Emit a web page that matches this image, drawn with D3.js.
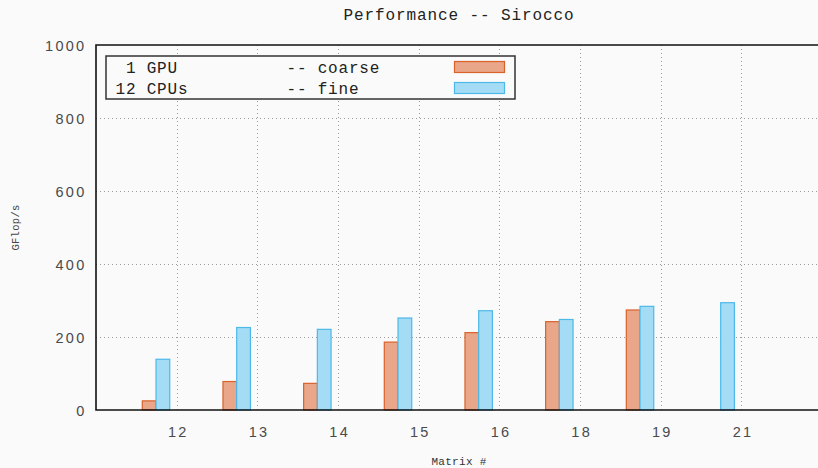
<!DOCTYPE html>
<html>
<head>
<meta charset="utf-8">
<script src="https://cdn.jsdelivr.net/npm/d3@7/dist/d3.min.js"></script>
<style>
  html, body { margin: 0; padding: 0; background: #fafafa; }
  svg { display: block; }
</style>
</head>
<body>
<svg id="chart" width="818" height="468"></svg>
<script>
// Matrix identifiers along the x axis
const categories = ["12", "13", "14", "15", "16", "18", "19", "21"];
// GFlop/s per matrix
const coarseValues = [25, 78, 73, 186, 212, 242, 274, null];   // 1 GPU -- coarse
const fineValues   = [139, 226, 221, 252, 272, 248, 284, 294]; // 12 CPUs -- fine
const yTicks = [0, 200, 400, 600, 800, 1000];

const seriesList = [
  { label: " 1 GPU", method: "-- coarse", values: coarseValues, fill: "#e9a688", stroke: "#d9622b" },
  { label: "12 CPUs", method: "-- fine", values: fineValues, fill: "#a5dcf5", stroke: "#4cb9e9" }
];

const svg = d3.select("#chart");
const plotLeft = 96, plotRight = 822, plotTop = 45, plotBottom = 410;
const monoFont = "'Liberation Mono', 'DejaVu Sans Mono', monospace";
const tickFont = "'Liberation Sans', Arial, sans-serif";

const x = d3.scaleLinear().domain([-1, categories.length]).range([plotLeft, plotRight]);
const y = d3.scaleLinear().domain([0, 1000]).range([plotBottom, plotTop]);

const barWidth = 0.17;
const groupOffset = -0.256;

// grid
const grid = svg.append("g").attr("stroke", "#9a9a9a").attr("stroke-width", 1)
  .attr("stroke-dasharray", "1,3");
grid.selectAll("line.v").data(categories).join("line").attr("class", "v")
  .attr("x1", (d, i) => Math.round(x(i)) + 0.5).attr("x2", (d, i) => Math.round(x(i)) + 0.5)
  .attr("y1", plotTop).attr("y2", plotBottom);
grid.selectAll("line.h").data(yTicks.filter(t => t > 0 && t < 1000)).join("line").attr("class", "h")
  .attr("x1", plotLeft).attr("x2", plotRight)
  .attr("y1", d => Math.round(y(d)) + 0.5).attr("y2", d => Math.round(y(d)) + 0.5);

// bars
seriesList.forEach((s, k) => {
  svg.append("g").selectAll("rect")
    .data(s.values.map((v, i) => ({ v, i })).filter(d => d.v != null))
    .join("rect")
    .attr("x", d => x(d.i + groupOffset + (k - 1) * barWidth))
    .attr("width", d => x(barWidth) - x(0))
    .attr("y", d => y(d.v))
    .attr("height", d => y(0) - y(d.v))
    .attr("fill", s.fill)
    .attr("stroke", s.stroke)
    .attr("stroke-width", 1.2);
});

// frame: left, top, bottom
const frame = svg.append("g").attr("stroke", "#111").attr("stroke-width", 1.6).attr("fill", "none");
frame.append("path").attr("d", `M${plotRight},${plotTop}H${plotLeft}V${plotBottom}H${plotRight}`);

// tick labels via d3 axes, with lines hidden
const yAxis = svg.append("g").attr("transform", `translate(${plotLeft - 9.5},0)`)
  .call(d3.axisLeft(y).tickValues(yTicks).tickFormat(d3.format("d")).tickSize(0).tickPadding(0));
yAxis.select(".domain").remove();
yAxis.selectAll("text")
  .attr("font-family", tickFont).attr("font-size", 14.5)
  .attr("letter-spacing", 2.3).attr("fill", "#4a4a4a").attr("dy", "0.36em");

const xAxis = svg.append("g").attr("transform", `translate(0,${plotBottom})`)
  .call(d3.axisBottom(x).tickValues(d3.range(categories.length))
    .tickFormat(i => categories[i]).tickSize(0).tickPadding(0));
xAxis.select(".domain").remove();
xAxis.selectAll("text")
  .attr("font-family", tickFont).attr("font-size", 14.5)
  .attr("letter-spacing", 2.3).attr("dx", 1.15).attr("fill", "#4a4a4a").attr("dy", null).attr("y", 27);

// title and axis titles
svg.append("text").attr("x", (plotLeft + plotRight) / 2).attr("y", 20)
  .attr("text-anchor", "middle").attr("font-family", monoFont).attr("font-size", 16)
  .attr("letter-spacing", 0.9).attr("fill", "#222")
  .text("Performance -- Sirocco");

svg.append("text").attr("transform", `translate(19,${(plotTop + plotBottom) / 2}) rotate(-90)`)
  .attr("text-anchor", "middle").attr("font-family", monoFont).attr("font-size", 10.5)
  .attr("letter-spacing", 0.3).attr("fill", "#444")
  .text("GFlop/s");

svg.append("text").attr("x", (plotLeft + plotRight) / 2).attr("y", 465)
  .attr("text-anchor", "middle").attr("font-family", monoFont).attr("font-size", 11)
  .attr("letter-spacing", 0.3).attr("fill", "#333")
  .text("Matrix #");

// legend
const legend = svg.append("g");
legend.append("rect").attr("x", 106).attr("y", 56).attr("width", 409).attr("height", 43)
  .attr("fill", "#fafafa").attr("stroke", "#333").attr("stroke-width", 1.5);
seriesList.forEach((s, k) => {
  const cy = 67 + k * 21;
  legend.append("text").attr("x", 115.5).attr("y", cy).attr("dy", "0.35em")
    .attr("font-family", monoFont).attr("font-size", 16).attr("letter-spacing", 0.8)
    .attr("fill", "#222").style("white-space", "pre")
    .text(s.label);
  legend.append("text").attr("x", 286.5).attr("y", cy).attr("dy", "0.35em")
    .attr("font-family", monoFont).attr("font-size", 16).attr("letter-spacing", 0.8)
    .attr("fill", "#222").text(s.method);
  legend.append("rect").attr("x", 454.5).attr("y", cy - 5.5).attr("width", 50).attr("height", 11)
    .attr("fill", s.fill).attr("stroke", s.stroke).attr("stroke-width", 1.2);
});
</script>
</body>
</html>
